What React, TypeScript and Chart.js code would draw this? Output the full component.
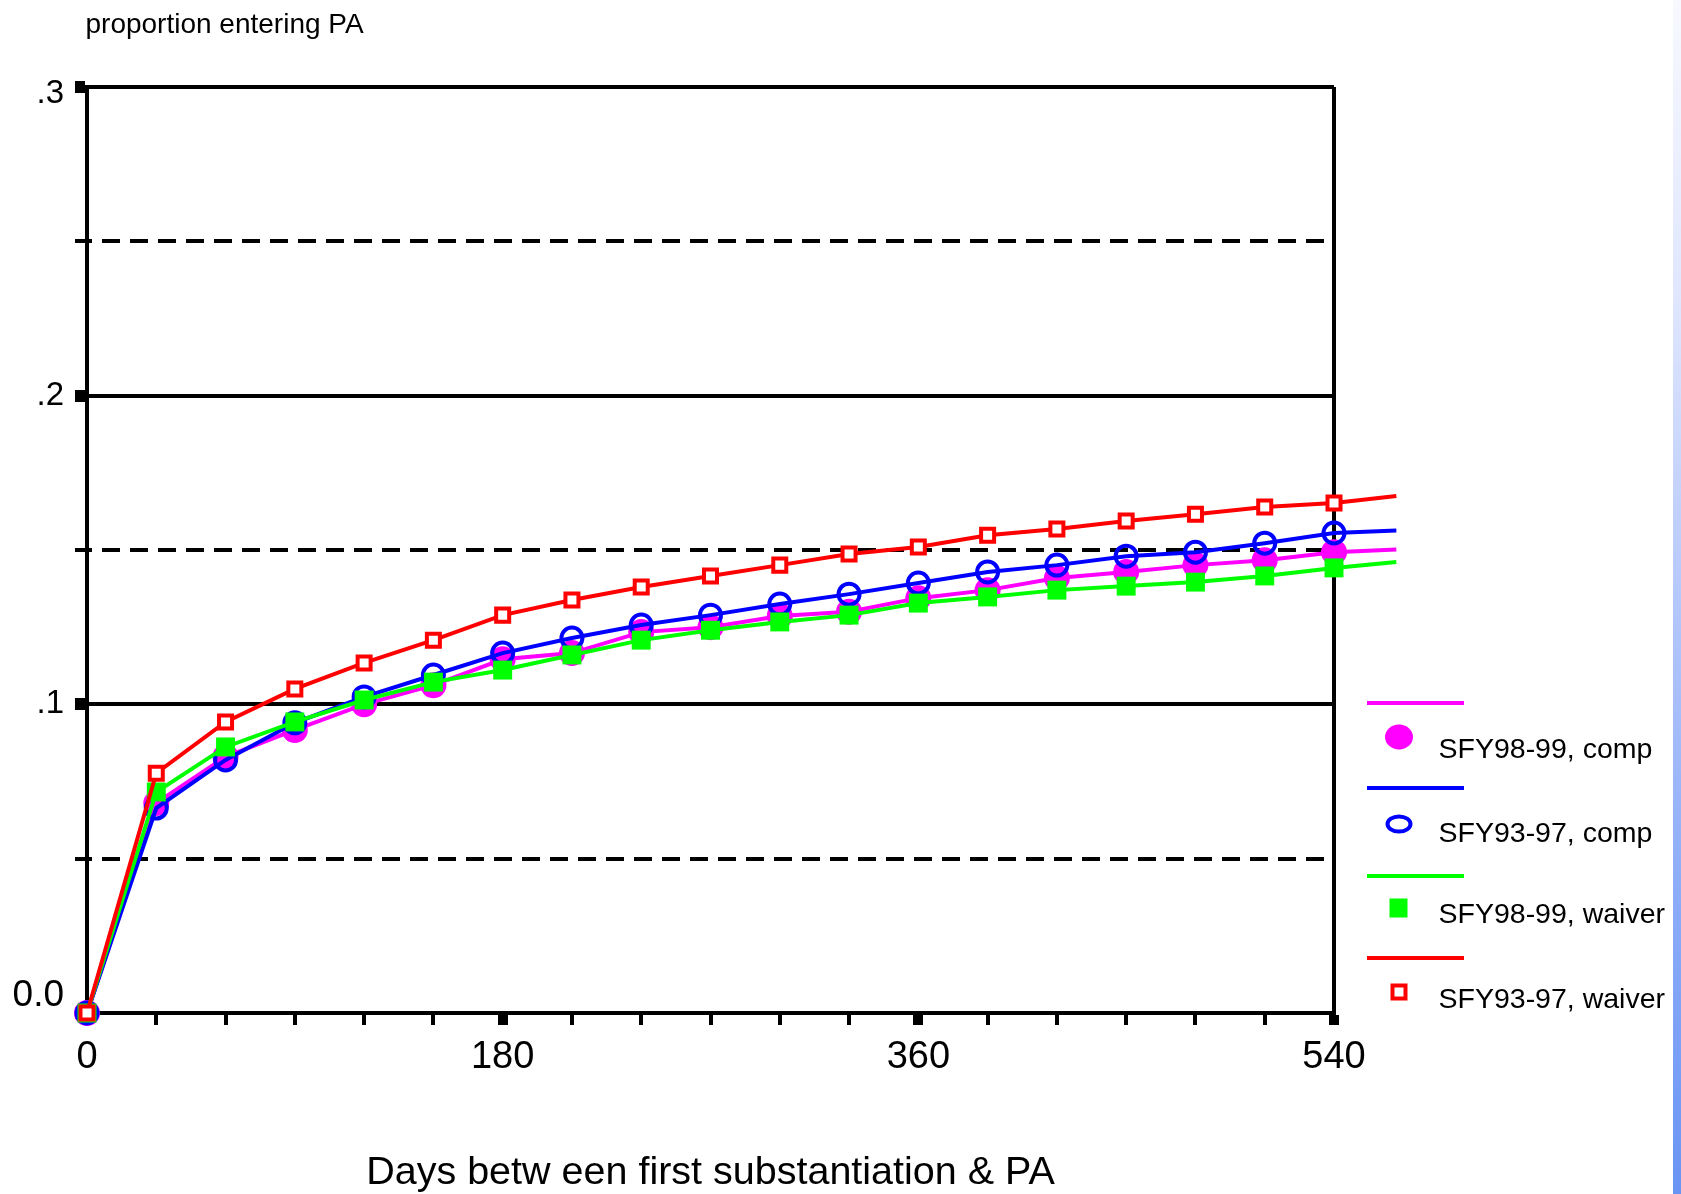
import React, { useEffect, useRef } from 'react';
import { Chart, registerables } from 'chart.js';

Chart.register(...registerables);

// ---------- data ----------
const DAYS = [0, 30, 60, 90, 120, 150, 180, 210, 240, 270, 300, 330, 360, 390, 420, 450, 480, 510, 540, 567];

const SFY9899_COMP = [0, 0.068, 0.083, 0.0917, 0.1, 0.1062, 0.1146, 0.1166, 0.1234, 0.125, 0.1286, 0.13, 0.1344, 0.137, 0.1409, 0.1429, 0.1451, 0.1467, 0.1493, 0.1502];
const SFY9397_COMP = [0, 0.0664, 0.082, 0.094, 0.1024, 0.1095, 0.1166, 0.1215, 0.1257, 0.1289, 0.1325, 0.1357, 0.1393, 0.1429, 0.1451, 0.148, 0.1493, 0.1522, 0.1555, 0.1563];
const SFY9899_WAIVER = [0, 0.0716, 0.0862, 0.0943, 0.1014, 0.1072, 0.1111, 0.116, 0.1208, 0.124, 0.1267, 0.1289, 0.1328, 0.1348, 0.137, 0.1383, 0.1396, 0.1416, 0.1442, 0.1461];
const SFY9397_WAIVER = [0, 0.0777, 0.0943, 0.105, 0.1134, 0.1208, 0.1289, 0.1338, 0.138, 0.1416, 0.1451, 0.1487, 0.151, 0.1548, 0.1568, 0.1594, 0.1616, 0.1639, 0.1652, 0.1675];

const SERIES_LABELS = ['SFY98-99, comp', 'SFY93-97, comp', 'SFY98-99, waiver', 'SFY93-97, waiver'];

const X_MIN = 0;
const X_MAX = 540;
const X_STEP = 30;
const X_TICK_LABELS = [0, 180, 360, 540];

const Y_MIN = 0;
const Y_MAX = 0.3;
const Y_STEP = 0.05;
const Y_LABEL_VALUES = [0, 0.1, 0.2, 0.3];
const Y_LABEL_TEXT = ['0.0', '.1', '.2', '.3'];

const Y_AXIS_TITLE = 'proportion entering PA';
const X_AXIS_TITLE = 'Days betw een first substantiation & PA';

// ---------- styling ----------
const FONT = '"Liberation Sans", Arial, Helvetica, sans-serif';
const MAGENTA = '#ff00ff';
const BLUE = '#0000ff';
const GREEN = '#00ff00';
const RED = '#ff0000';

const near = (a: number, b: number) => Math.abs(a - b) < 1e-9;
const isMajorY = (v: number) => Y_LABEL_VALUES.some((t) => near(t, v));
const markerRadii = (r: number) => DAYS.map((d) => (d <= X_MAX ? r : 0));
const toPoints = (vals: number[]) => DAYS.map((d, i) => ({ x: d, y: vals[i] }));

const LEGEND_LINE_Y = [703, 788, 876, 958];
const LEGEND_MARK_Y = [737, 824, 908, 992];
const LEGEND_TEXT_Y = [758, 842, 923, 1008];

const sideLegend = {
  id: 'sideLegend',
  afterDraw(chart: any) {
    const ctx: CanvasRenderingContext2D = chart.ctx;
    ctx.save();
    ctx.fillStyle = '#000';
    ctx.textAlign = 'left';
    ctx.textBaseline = 'alphabetic';
    ctx.font = `28px ${FONT}`;
    ctx.fillText(Y_AXIS_TITLE, 85.5, 33);

    chart.data.datasets.forEach((ds: any, i: number) => {
      const ly = LEGEND_LINE_Y[i];
      const my = LEGEND_MARK_Y[i];
      ctx.setLineDash([]);
      ctx.strokeStyle = ds.borderColor;
      ctx.lineWidth = 4;
      ctx.beginPath();
      ctx.moveTo(1367, ly);
      ctx.lineTo(1464, ly);
      ctx.stroke();

      const mx = 1399;
      if (i === 0) {
        ctx.fillStyle = ds.borderColor;
        ctx.beginPath();
        ctx.ellipse(mx, my, 14, 12.5, 0, 0, Math.PI * 2);
        ctx.fill();
      } else if (i === 1) {
        ctx.strokeStyle = ds.borderColor;
        ctx.lineWidth = 4;
        ctx.beginPath();
        ctx.ellipse(mx, my, 11.5, 7.5, 0, 0, Math.PI * 2);
        ctx.stroke();
      } else if (i === 2) {
        ctx.fillStyle = ds.borderColor;
        ctx.fillRect(mx - 9.5, my - 9.5, 18, 19);
      } else {
        ctx.strokeStyle = ds.borderColor;
        ctx.lineWidth = 4;
        ctx.strokeRect(mx - 6.5, my - 6.5, 13, 13);
      }

      ctx.fillStyle = '#000';
      ctx.font = `28.5px ${FONT}`;
      ctx.fillText(ds.label, 1438.5, LEGEND_TEXT_Y[i]);
    });
    ctx.restore();
  },
};

export default function App() {
  const ref = useRef<HTMLCanvasElement>(null);

  useEffect(() => {
    if (!ref.current) return;
    const chart = new Chart(ref.current, {
      type: 'line',
      data: {
        datasets: [
          {
            label: SERIES_LABELS[0],
            data: toPoints(SFY9899_COMP),
            borderColor: MAGENTA,
            backgroundColor: MAGENTA,
            borderWidth: 4,
            pointStyle: 'circle',
            pointRadius: markerRadii(13),
            pointBorderWidth: 0,
            pointBackgroundColor: MAGENTA,
            pointBorderColor: MAGENTA,
            order: 4,
            clip: false,
          },
          {
            label: SERIES_LABELS[1],
            data: toPoints(SFY9397_COMP),
            borderColor: BLUE,
            backgroundColor: BLUE,
            borderWidth: 4,
            pointStyle: 'circle',
            pointRadius: markerRadii(10.5),
            pointBorderWidth: 4,
            pointBackgroundColor: 'rgba(0,0,0,0)',
            pointBorderColor: BLUE,
            order: 3,
            clip: false,
          },
          {
            label: SERIES_LABELS[2],
            data: toPoints(SFY9899_WAIVER),
            borderColor: GREEN,
            backgroundColor: GREEN,
            borderWidth: 4,
            pointStyle: 'rect',
            pointRadius: markerRadii(13.4),
            pointBorderWidth: 0,
            pointBackgroundColor: GREEN,
            pointBorderColor: GREEN,
            order: 2,
            clip: false,
          },
          {
            label: SERIES_LABELS[3],
            data: toPoints(SFY9397_WAIVER),
            borderColor: RED,
            backgroundColor: RED,
            borderWidth: 4,
            pointStyle: 'rect',
            pointRadius: markerRadii(9.2),
            pointBorderWidth: 4,
            pointBackgroundColor: '#ffffff',
            pointBorderColor: RED,
            order: 1,
            clip: false,
          },
        ] as any,
      },
      options: {
        responsive: false,
        animation: false,
        events: [],
        layout: { padding: { top: 87, right: 347, left: 0, bottom: 0 } },
        plugins: {
          legend: { display: false },
          tooltip: { enabled: false },
          title: { display: false },
        },
        elements: { line: { tension: 0 } },
        scales: {
          x: {
            type: 'linear',
            afterDataLimits: (s: any) => {
              s.min = X_MIN;
              s.max = X_MAX;
            },
            afterFit: (s: any) => {
              s.height = 181;
            },
            grid: {
              color: (c: any) => (c.tick && near(c.tick.value, X_MAX) ? '#000' : 'rgba(0,0,0,0)'),
              lineWidth: 4,
              tickLength: 12,
              tickColor: '#000',
              tickWidth: (c: any) => (c.tick && X_TICK_LABELS.some((t) => near(t, c.tick.value)) ? 10 : 4),
            },
            border: { display: true, color: '#000', width: 4 },
            ticks: {
              stepSize: X_STEP,
              autoSkip: false,
              maxRotation: 0,
              minRotation: 0,
              padding: 10,
              color: '#000',
              font: { family: FONT, size: 38 },
              callback: (v: any) => (X_TICK_LABELS.some((t) => near(t, Number(v))) ? String(v) : ''),
            },
            title: {
              display: true,
              text: X_AXIS_TITLE,
              color: '#000',
              font: { family: FONT, size: 39.5, lineHeight: 1 },
              padding: { top: 0, bottom: 1 },
            },
          },
          y: {
            type: 'linear',
            min: Y_MIN,
            max: Y_MAX,
            afterFit: (s: any) => {
              s.width = 87;
            },
            grid: {
              color: '#000',
              lineWidth: 4,
              tickLength: 12,
              tickColor: '#000',
              tickWidth: (c: any) => (c.tick && isMajorY(c.tick.value) ? 12 : 4),
            },
            border: {
              display: true,
              color: '#000',
              width: 4,
              dash: (c: any) => (c.tick && !isMajorY(c.tick.value) ? [18, 10] : []),
              dashOffset: 15,
            },
            ticks: {
              stepSize: Y_STEP,
              autoSkip: false,
              padding: 11,
              color: '#000',
              font: (c: any) => {
                const v = c.tick ? c.tick.value : 0.1;
                if (near(v, 0)) return { family: FONT, size: 37, lineHeight: '34px' };
                if (near(v, Y_MAX)) return { family: FONT, size: 33, lineHeight: '13px' };
                return { family: FONT, size: 33 };
              },
              callback: (v: any) => {
                const n = Number(v);
                const idx = Y_LABEL_VALUES.findIndex((t) => near(t, n));
                if (idx < 0) return '';
                const txt = Y_LABEL_TEXT[idx];
                if (near(n, 0)) return [txt, ''];
                if (near(n, Y_MAX)) return ['', txt];
                return txt;
              },
            },
          },
        },
      } as any,
      plugins: [sideLegend],
    });
    return () => chart.destroy();
  }, []);

  return (
    <div
      style={{
        position: 'fixed',
        left: 0,
        top: 0,
        width: 1681,
        height: 1194,
        background: '#ffffff',
        overflow: 'hidden',
      }}
    >
      <canvas ref={ref} width={1681} height={1194} style={{ display: 'block', width: 1681, height: 1194 }} />
      <div
        style={{
          position: 'absolute',
          left: 1673,
          top: 0,
          width: 8,
          height: 1194,
          background: 'linear-gradient(to bottom, #f8f9ff 0%, #dfe6fe 25%, #b5c8fb 50%, #8cacf8 75%, #6a94f4 100%)',
        }}
      />
    </div>
  );
}
